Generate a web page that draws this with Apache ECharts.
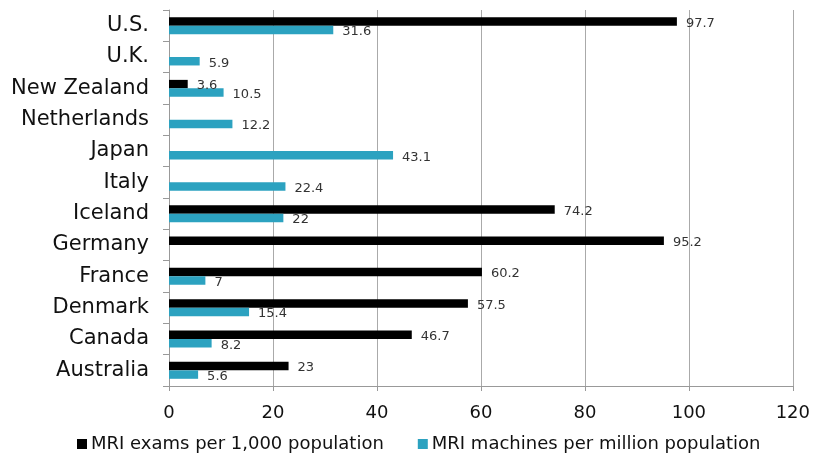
<!DOCTYPE html>
<html>
<head>
<meta charset="utf-8">
<script src="https://cdn.jsdelivr.net/npm/echarts@6/dist/echarts.min.js"></script>
<style>
  html, body { margin: 0; padding: 0; background: #fff; }
  #chart { width: 813px; height: 459px; }
</style>
</head>
<body>
<div id="chart"></div>
<script>
// categories listed top to bottom
const countries = ['U.S.', 'U.K.', 'New Zealand', 'Netherlands', 'Japan', 'Italy',
  'Iceland', 'Germany', 'France', 'Denmark', 'Canada', 'Australia']
const mriExams = [97.7, null, 3.6, null, null, null, 74.2, 95.2, 60.2, 57.5, 46.7, 23]
const mriMachines = [31.6, 5.9, 10.5, 12.2, 43.1, 22.4, 22, null, 7, 15.4, 8.2, 5.6]
const seriesNames = ['MRI exams per 1,000 population', 'MRI machines per million population']

const font = 'DejaVu Sans'
const chart = echarts.init(document.getElementById('chart'))

const barLabel = {
    show: true,
    position: 'right',
    distance: 9,
    color: '#333',
    fontFamily: font,
    fontSize: 13,
    offset: [0, 2]
}

chart.setOption({
    animation: false,
    textStyle: { fontFamily: font },
    grid: { left: 169, right: 20, top: 10, bottom: 73 },
    legend: {
        bottom: 1,
        left: 72,
        itemWidth: 10,
        itemHeight: 10,
        itemGap: 34,
        icon: 'rect',
        textStyle: { fontSize: 18, color: '#111', fontFamily: font, padding: [0, 0, 0, -1] },
        data: seriesNames
    },
    xAxis: {
        type: 'value',
        min: 0,
        max: 120,
        interval: 20,
        axisLine: { show: true, lineStyle: { color: '#999' } },
        axisTick: { show: true, length: 5, lineStyle: { color: '#999' } },
        axisLabel: { fontSize: 18, color: '#111', margin: 18 },
        splitLine: { show: true, lineStyle: { color: '#aaa', width: 1 } }
    },
    yAxis: {
        type: 'category',
        inverse: true,
        data: countries,
        axisLine: { show: true, lineStyle: { color: '#999' } },
        axisTick: { show: true, length: 6, lineStyle: { color: '#999' } },
        axisLabel: { fontSize: 21, color: '#111', margin: 20, padding: [4, 0, 0, 0] }
    },
    series: [
        {
            name: seriesNames[0],
            type: 'bar',
            data: mriExams,
            itemStyle: { color: '#000' },
            barGap: '0%',
            barCategoryGap: '46%',
            label: barLabel
        },
        {
            name: seriesNames[1],
            type: 'bar',
            data: mriMachines,
            itemStyle: { color: '#2ca2c0' },
            label: barLabel
        }
    ]
})
</script>
</body>
</html>
